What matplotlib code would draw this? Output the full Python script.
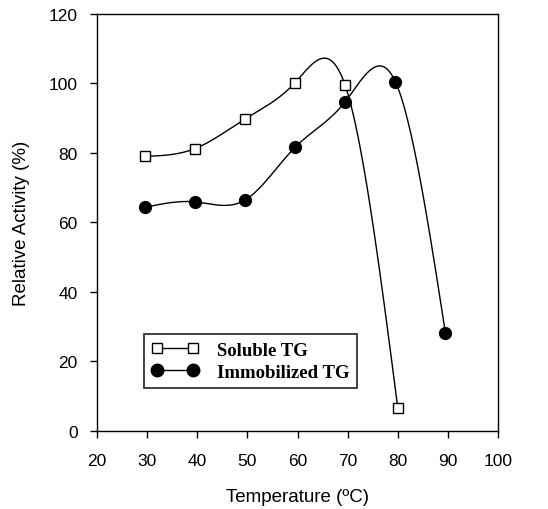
import numpy as np
import matplotlib
matplotlib.use('Agg')
from matplotlib import pyplot as plt

# data
temp_soluble = [29.5, 39.5, 49.5, 59.5, 69.5, 80.0]
act_soluble = [79.0, 81.2, 89.7, 100.2, 99.4, 6.5]

temp_immob = [29.5, 39.5, 49.5, 59.5, 69.5, 79.5, 89.5]
act_immob = [64.3, 65.9, 66.4, 81.6, 94.7, 100.5, 28.1]


def natural_spline(x, y, n=300):
    # smooth connecting line, like the original plotting program
    x = np.asarray(x, float)
    y = np.asarray(y, float)
    k = len(x)
    h = np.diff(x)
    A = np.zeros((k, k))
    b = np.zeros(k)
    A[0, 0] = A[-1, -1] = 1
    for i in range(1, k - 1):
        A[i, i - 1] = h[i - 1]
        A[i, i] = 2 * (h[i - 1] + h[i])
        A[i, i + 1] = h[i]
        b[i] = 6 * ((y[i + 1] - y[i]) / h[i] - (y[i] - y[i - 1]) / h[i - 1])
    m = np.linalg.solve(A, b)
    xs = np.linspace(x[0], x[-1], n)
    j = np.clip(np.searchsorted(x, xs) - 1, 0, k - 2)
    t0 = xs - x[j]
    t1 = x[j + 1] - xs
    hj = h[j]
    ys = (m[j] * t1**3 + m[j + 1] * t0**3) / (6 * hj) \
        + (y[j] / hj - m[j] * hj / 6) * t1 \
        + (y[j + 1] / hj - m[j + 1] * hj / 6) * t0
    return xs, ys


fig = plt.figure(figsize=(5.48, 5.10), dpi=100)
ax = fig.add_axes([0.177, 0.153, 0.732, 0.818])

xs, ys = natural_spline(temp_soluble, act_soluble)
ax.plot(xs, ys, color='black', lw=1.0, zorder=2)
xi, yi = natural_spline(temp_immob, act_immob)
ax.plot(xi, yi, color='black', lw=1.0, zorder=2)

ax.plot(temp_soluble, act_soluble, ls='none', marker='s', ms=7,
        mfc='white', mec='black', mew=1.0, zorder=3)
ax.plot(temp_immob, act_immob, ls='none', marker='o', ms=8.5,
        mfc='black', mec='black', zorder=3)

# legend handles
h1, = ax.plot([], [], color='black', lw=1.0, marker='s', ms=7,
              mfc='white', mec='black')
h2, = ax.plot([], [], color='black', lw=1.0, marker='o', ms=9,
              mfc='black', mec='black')
leg = ax.legend([h1, h2], ['Soluble TG', 'Immobilized TG'], numpoints=2,
                loc='lower left', bbox_to_anchor=(0.117, 0.103),
                frameon=True, fancybox=False, edgecolor='black',
                handlelength=2.5, borderpad=0.4, labelspacing=0.25,
                handletextpad=1.0, borderaxespad=0,
                prop={'family': 'Liberation Serif', 'weight': 'bold', 'size': 13.5})
leg.get_frame().set_linewidth(1.3)

ax.set_xlim(20, 100)
ax.set_ylim(0, 120)
ax.set_xticks(range(20, 101, 10))
ax.set_yticks(range(0, 121, 20))
ax.tick_params(direction='out', length=5, width=1, top=False, right=False,
               labelsize=12.5)
ax.tick_params(axis='x', pad=11)
ax.tick_params(axis='y', pad=9)
for lab in ax.get_xticklabels() + ax.get_yticklabels():
    lab.set_family('Liberation Sans')

for s in ax.spines.values():
    s.set_linewidth(1.0)

ax.set_xlabel('Temperature (ºC)', family='Liberation Sans', fontsize=13.5, labelpad=14)
ax.set_ylabel('Relative Activity (%)', family='Liberation Sans', fontsize=13.5, labelpad=13)

fig.savefig('out.png', dpi=100)
